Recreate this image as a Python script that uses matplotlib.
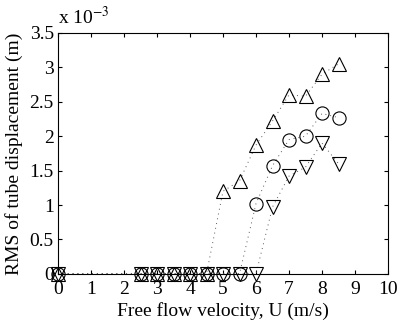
import matplotlib
matplotlib.use("Agg")
import matplotlib.pyplot as plt

# free flow velocity (m/s)
u_up = [0, 2.5, 3, 3.5, 4, 4.5, 5, 5.5, 6, 6.5, 7, 7.5, 8, 8.5]
rms_up = [0, 0, 0, 0, 0, 0, 1.20, 1.35, 1.87, 2.22, 2.60, 2.58, 2.90, 3.05]

u_circ = [0, 2.5, 3, 3.5, 4, 4.5, 5, 5.5, 6, 6.5, 7, 7.5, 8, 8.5]
rms_circ = [0, 0, 0, 0, 0, 0, 0, 0, 1.02, 1.57, 1.95, 2.00, 2.33, 2.27]

u_down = [0, 2.5, 3, 3.5, 4, 4.5, 5, 5.5, 6, 6.5, 7, 7.5, 8, 8.5]
rms_down = [0, 0, 0, 0, 0, 0, 0, 0, 0, 0.97, 1.42, 1.55, 1.90, 1.60]

plt.rcParams["font.family"] = ["Liberation Serif", "DejaVu Serif"]
plt.rcParams["mathtext.fontset"] = "stix"

fig = plt.figure(figsize=(4.0, 3.26), dpi=100)
ax = fig.add_axes([0.145, 0.16, 0.825, 0.739])

scale = 1e-3
for xs, ys, m in ((u_up, rms_up, "^"), (u_circ, rms_circ, "o"), (u_down, rms_down, "v")):
    ax.plot(xs, [v * scale for v in ys], linestyle=(0, (1, 4)), color="0.35", linewidth=0.7,
            marker=m, markersize=9.5, markerfacecolor="none", markeredgecolor="black",
            markeredgewidth=0.8, clip_on=False)

ax.set_xlim(0, 10)
ax.set_ylim(0, 3.5e-3)
ax.set_xticks(range(0, 11))
yt = [i * 0.5 for i in range(8)]
ax.set_yticks([v * scale for v in yt])
ax.set_yticklabels(["%g" % v for v in yt])
ax.tick_params(direction="in", top=True, right=True, labelsize=14, length=3)
ax.tick_params(axis="x", pad=5)
ax.tick_params(axis="y", pad=3)
for s in ax.spines.values():
    s.set_linewidth(0.8)

ax.set_xlabel("Free flow velocity, U (m/s)", fontsize=14, labelpad=3)
ax.set_ylabel("RMS of tube displacement (m)", fontsize=14, labelpad=5)
ax.text(0.0, 1.02, r"x 10$^{-3}$", transform=ax.transAxes, fontsize=14, ha="left", va="bottom")

fig.savefig("out.png", dpi=100)
plt.close(fig)
